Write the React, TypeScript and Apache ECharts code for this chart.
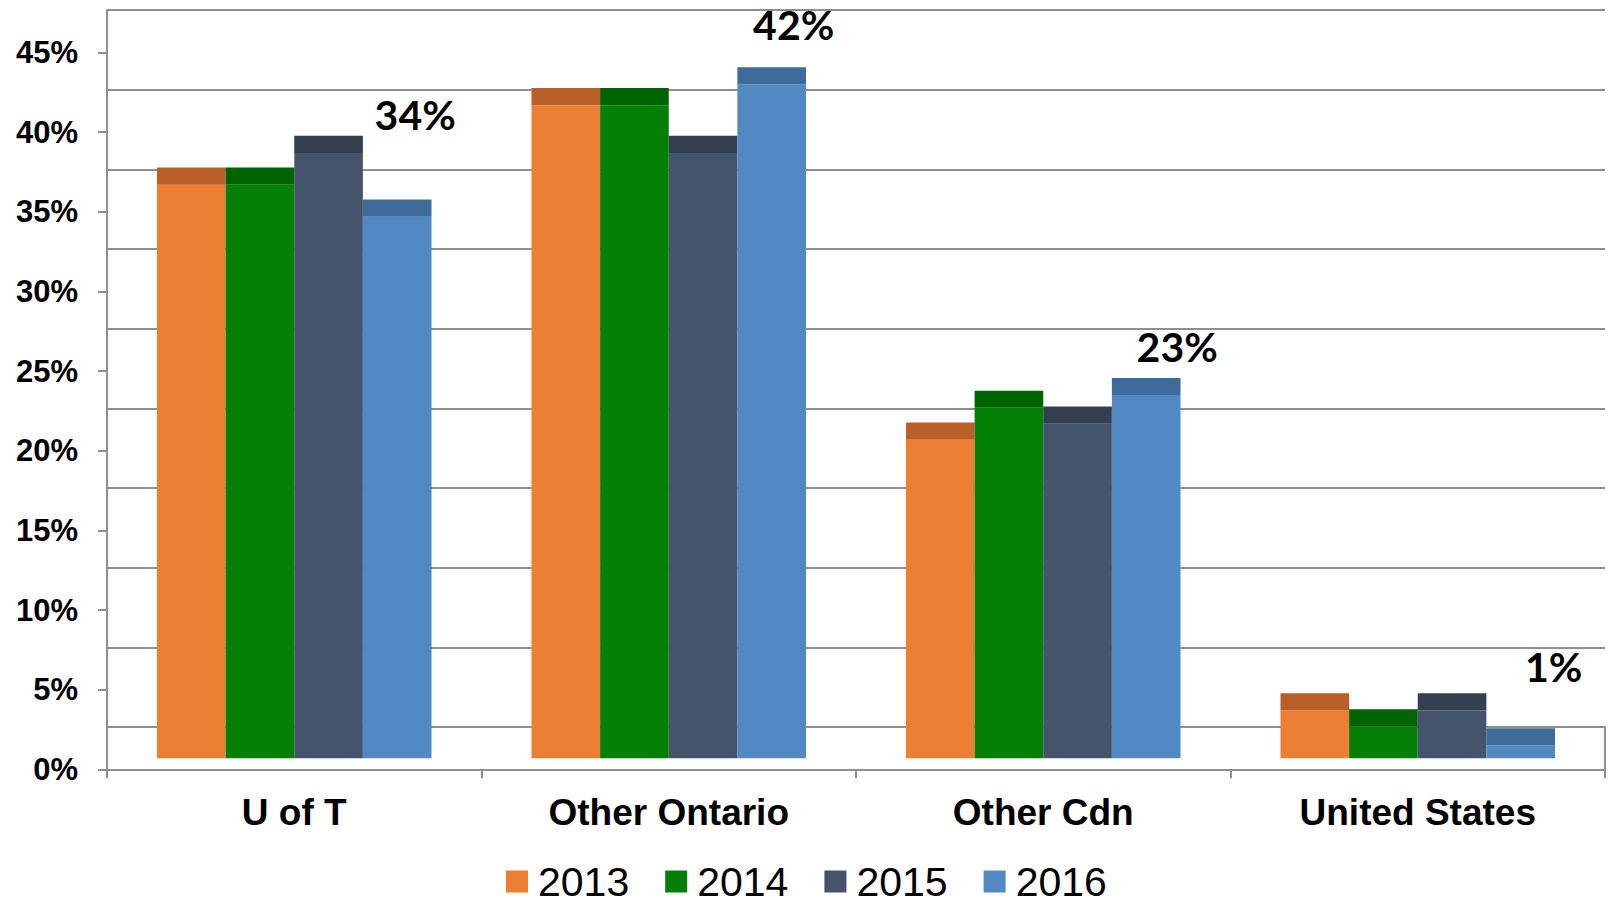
import React, { useEffect, useRef } from "react";
import * as echarts from "echarts";

const categories = ["U of T", "Other Ontario", "Other Cdn", "United States"];
const years = ["2013", "2014", "2015", "2016"];
const v2013 = [36, 41, 20, 3];
const v2014 = [36, 41, 22, 2];
const v2015 = [38, 38, 21, 3];
const v2016 = [34, 42.3, 22.8, 0.8];
const seriesValues = [v2013, v2014, v2015, v2016];
const yMin = 0;
const yMax = 45;
const yStep = 5;

// styling
const frontColors = ["#ED7F33", "#038005", "#46546B", "#5289C2"];
const topColors = ["#B95F27", "#006500", "#343F50", "#3D6B9A"];
const TOP_FACE = 1.08; // depth of the 3D top face, in axis units
const labelOffsets = [
  [18, -85],
  [22, -43],
  [31, -31],
  [33, -62],
];
const GRAY = "#8f8f8f";
const PX_PER_UNIT = 15.93;
const W = 1608;
const H = 907;
const LEFT = 107;
const RIGHT = 3;
const FRONT_ZERO = 769.3;
const BAR_ZERO = 758.3;
const BACK_ZERO = 727;

export default function App() {
  const ref = useRef<HTMLDivElement>(null);
  useEffect(() => {
    if (!ref.current) return;
    const chart = echarts.init(ref.current, null, { renderer: "svg" });
    const span = (yMax - yMin) * PX_PER_UNIT;
    const grids = [
      { left: LEFT, right: RIGHT, top: BACK_ZERO - span, height: span }, // back wall
      { left: LEFT, right: RIGHT, top: BACK_ZERO, height: FRONT_ZERO - BACK_ZERO }, // floor
      { left: LEFT, right: RIGHT, top: FRONT_ZERO - span, height: span }, // front axis
      { left: LEFT, right: RIGHT, top: BAR_ZERO - span, height: span }, // bars
    ];
    const hiddenX = (gi: number) => ({ type: "category", gridIndex: gi, data: categories, show: false });
    const xAxis = [
      hiddenX(0),
      hiddenX(1),
      {
        type: "category",
        gridIndex: 2,
        data: categories,
        axisLine: { show: true, lineStyle: { color: GRAY, width: 2 } },
        axisTick: { show: true, length: 9, lineStyle: { color: GRAY, width: 2 } },
        axisLabel: {
          color: "#000",
          fontFamily: "Liberation Sans, Arial, sans-serif",
          fontWeight: "bold",
          fontSize: 37,
          verticalAlign: "middle",
          margin: 43,
        },
      },
      hiddenX(3),
    ];
    const yAxis = [
      {
        type: "value",
        gridIndex: 0,
        min: yMin,
        max: yMax,
        interval: yStep,
        axisLine: { show: true, lineStyle: { color: GRAY, width: 2 } },
        axisTick: { show: false },
        axisLabel: { show: false },
        splitLine: { show: true, lineStyle: { color: GRAY, width: 2 } },
      },
      {
        type: "value",
        gridIndex: 1,
        position: "right",
        min: 0,
        max: 1,
        axisLine: { show: true, lineStyle: { color: GRAY, width: 2 } },
        axisTick: { show: false },
        axisLabel: { show: false },
        splitLine: { show: false },
      },
      {
        type: "value",
        gridIndex: 2,
        min: yMin,
        max: yMax,
        interval: yStep,
        axisLine: { show: true, lineStyle: { color: GRAY, width: 2 } },
        axisTick: { show: true, length: 9, lineStyle: { color: GRAY, width: 2 } },
        axisLabel: {
          color: "#000",
          fontFamily: "Liberation Sans, Arial, sans-serif",
          fontWeight: "bold",
          fontSize: 31,
          margin: 29,
          formatter: "{value}%",
        },
        splitLine: { show: false },
      },
      {
        type: "value",
        gridIndex: 3,
        min: yMin,
        max: yMax,
        show: false,
        splitLine: { show: false },
      },
    ];
    const series: any[] = [];
    years.forEach((yr, i) => {
      series.push({
        name: yr,
        type: "bar",
        xAxisIndex: 3,
        yAxisIndex: 3,
        stack: "s" + yr,
        barGap: "0%",
        barCategoryGap: "26.7%",
        itemStyle: { color: frontColors[i] },
        data: seriesValues[i],
      });
      const isLast = i === years.length - 1;
      series.push({
        name: yr + " top",
        type: "bar",
        xAxisIndex: 3,
        yAxisIndex: 3,
        stack: "s" + yr,
        barGap: "0%",
        barCategoryGap: "26.7%",
        itemStyle: { color: topColors[i] },
        data: seriesValues[i].map((_, j) =>
          isLast
            ? { value: TOP_FACE, label: { offset: labelOffsets[j] } }
            : TOP_FACE
        ),
        label: isLast
          ? {
              show: true,
              position: "top",
              distance: 0,
              verticalAlign: "middle",
              color: "#000",
              fontFamily: "Lato, Open Sans, sans-serif",
              fontWeight: "bold",
              fontSize: 41,
              formatter: (p: any) => `${Math.round(seriesValues[i][p.dataIndex])}%`,
            }
          : { show: false },
      });
    });
    chart.setOption({
      animation: false,
      backgroundColor: "#fff",
      grid: grids,
      xAxis,
      yAxis,
      legend: {
        data: years,
        left: 506,
        top: 861,
        padding: 0,
        itemWidth: 22,
        itemHeight: 22,
        itemGap: 36,
        icon: "rect",
        textStyle: {
          color: "#000",
          fontFamily: "Liberation Sans, Arial, sans-serif",
          fontSize: 41,
          padding: [0, 0, 0, 5],
        },
      },
      series,
    });
    return () => chart.dispose();
  }, []);
  return (
    <div
      ref={ref}
      style={{ position: "fixed", left: 0, top: 0, width: W, height: H, background: "#fff" }}
    />
  );
}
